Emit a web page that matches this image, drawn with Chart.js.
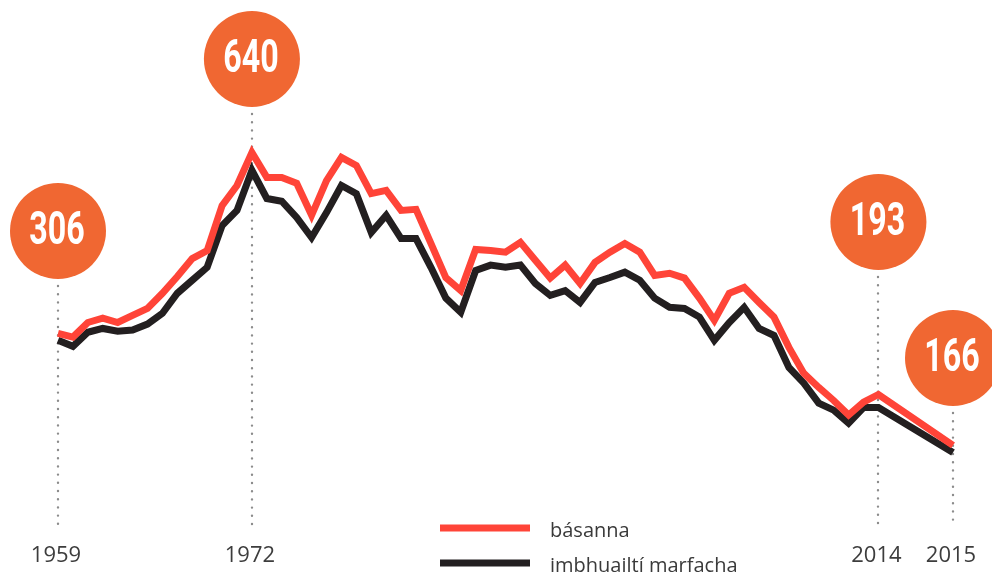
<!DOCTYPE html>
<html>
<head>
<meta charset="utf-8">
<script src="https://cdn.jsdelivr.net/npm/chart.js@4.4.0/dist/chart.umd.min.js"></script>
<style>
  body { margin: 0; background: #fff; }
  #wrap { width: 992px; height: 577px; }
</style>
</head>
<body>
<div id="wrap"><canvas id="myChart" width="992" height="577"></canvas></div>
<script>
// one slot per year 1959-2014, then four empty slots before the 2015 point
const years = [];
for (let y = 1959; y <= 2014; y++) years.push(String(y));
years.push('', '', '', '', '2015');

// básanna (red)
const basanna = [306, 299, 326, 334, 326, 339, 352, 380, 411, 444,
  459, 542, 579, 640, 594, 594, 583, 524, 588, 631,
  616, 564, 570, 533, 535, 472, 409, 385, 461, 459,
  456, 474, 441, 408, 432, 398, 437, 456, 472, 456,
  413, 417, 408, 371, 330, 380, 391, 363, 336, 280,
  232, 206, 182, 155, 179, 193, null, null, null, null, 99];

// imbhuailtí marfacha (black)
const imbhuailti = [293, 282, 308, 315, 310, 312, 323, 343, 380, 404,
  428, 505, 533, 607, 555, 550, 520, 483, 529, 579,
  564, 492, 524, 481, 481, 428, 371, 345, 422, 432,
  428, 432, 398, 376, 385, 363, 400, 409, 419, 404,
  371, 354, 352, 336, 293, 326, 354, 315, 302, 243,
  214, 177, 164, 140, 169, 169, null, null, null, null, 86];

// highlighted years and the figures shown in the bubbles
const markerYears = ['1959', '1972', '2014', '2015'];
const markerValues = ['306', '640', '193', '166'];

const bubbleY = [231, 59, 222, 358];   // bubble centres (px)
const ORANGE = '#f06732';
const RED = '#ff4438';
const BLACK = '#231f20';

const overlay = {
  id: 'overlay',
  beforeDatasetsDraw(chart) {
    const ctx = chart.ctx;
    const xs = chart.scales.x;
    ctx.save();
    ctx.strokeStyle = '#8c8c8c';
    ctx.lineWidth = 2.4;
    ctx.lineCap = 'round';
    ctx.setLineDash([0, 8.2]);
    markerYears.forEach((yr, i) => {
      const x = Math.round(xs.getPixelForValue(years.indexOf(yr)));
      ctx.beginPath();
      ctx.moveTo(x, bubbleY[i] + 55);
      ctx.lineTo(x, 524);
      ctx.stroke();
    });
    ctx.restore();
  },
  afterDatasetsDraw(chart) {
    const ctx = chart.ctx;
    const xs = chart.scales.x;
    ctx.save();
    // bubbles
    markerYears.forEach((yr, i) => {
      const x = xs.getPixelForValue(years.indexOf(yr));
      ctx.fillStyle = ORANGE;
      ctx.beginPath();
      ctx.arc(x, bubbleY[i], 48, 0, Math.PI * 2);
      ctx.fill();
      ctx.save();
      ctx.translate(x - 1, bubbleY[i] + 1);
      ctx.scale(0.7, 1);
      ctx.fillStyle = '#fff';
      ctx.font = 'bold 46px Roboto';
      ctx.textAlign = 'center';
      ctx.textBaseline = 'middle';
      ctx.fillText(markerValues[i], 0, 0);
      ctx.restore();
    });
    // year labels
    ctx.fillStyle = '#3d3d3d';
    ctx.font = '22px "Open Sans"';
    ctx.textAlign = 'center';
    ctx.textBaseline = 'middle';
    markerYears.forEach((yr) => {
      const x = xs.getPixelForValue(years.indexOf(yr));
      ctx.fillText(yr, x - 2, 556);
    });
    // legend
    const ds = chart.data.datasets;
    const rows = [528, 563];
    ds.forEach((d, i) => {
      ctx.fillStyle = d.borderColor;
      ctx.fillRect(440, rows[i] - 3.5, 90, 7);
      ctx.fillStyle = '#3a3a3a';
      ctx.font = '20px "Open Sans"';
      ctx.textAlign = 'left';
      ctx.fillText(d.label, 550, rows[i] + 3);
    });
    ctx.restore();
  }
};

const ctx = document.getElementById('myChart');
const chart = new Chart(ctx, {
  type: 'line',
  data: {
    labels: years,
    datasets: [
      { label: 'básanna', data: basanna, borderColor: RED, borderWidth: 7,
        pointRadius: 0, tension: 0, spanGaps: true, borderJoinStyle: 'miter', fill: false },
      { label: 'imbhuailtí marfacha', data: imbhuailti, borderColor: BLACK, borderWidth: 7,
        pointRadius: 0, tension: 0, spanGaps: true, borderJoinStyle: 'miter', fill: false }
    ]
  },
  options: {
    responsive: false,
    animation: false,
    events: [],
    layout: { padding: { left: 58, right: 39, top: 120, bottom: 78 } },
    plugins: { legend: { display: false }, tooltip: { enabled: false } },
    scales: {
      x: { type: 'category', display: false },
      y: { display: false, min: 0, max: 700 }
    }
  },
  plugins: [overlay]
});
</script>
</body>
</html>
